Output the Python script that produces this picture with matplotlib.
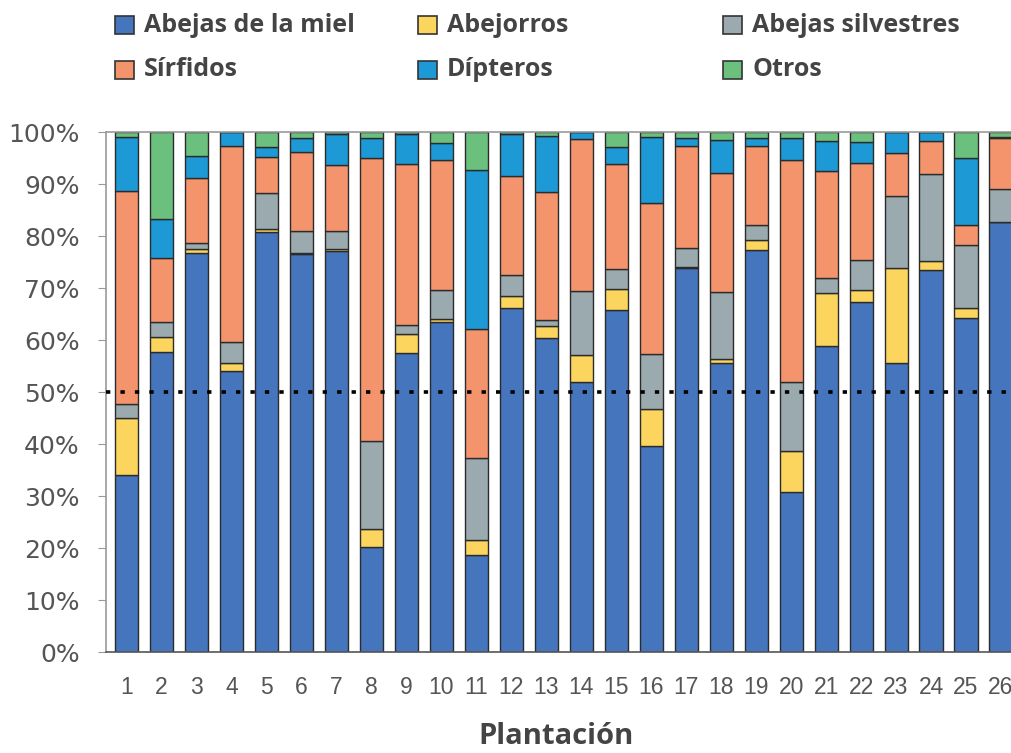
import matplotlib
matplotlib.use("Agg")
import matplotlib.pyplot as plt
import numpy as np
from matplotlib.patches import Rectangle

plantaciones = [str(i) for i in range(1, 27)]

# cumulative tops (percent)
abejas_miel_top = [34.0, 57.7, 76.7, 54.0, 80.7, 76.6, 77.2, 20.1, 57.5, 63.4, 18.7, 66.1, 60.3,
                   51.9, 65.8, 39.6, 73.9, 55.5, 77.4, 30.8, 58.8, 67.4, 55.5, 73.4, 64.2, 82.6]
abejorros_top = [45.0, 60.5, 77.5, 55.6, 81.3, 76.8, 77.5, 23.7, 61.1, 64.1, 21.6, 68.5, 62.6,
                 57.2, 69.9, 46.7, 74.0, 56.4, 79.3, 38.6, 69.1, 69.7, 73.8, 75.2, 66.1, 82.6]
abejas_silv_top = [47.7, 63.4, 78.7, 59.6, 88.3, 81.0, 81.0, 40.6, 62.8, 69.7, 37.3, 72.5, 63.8,
                   69.4, 73.6, 57.3, 77.7, 69.2, 82.1, 51.9, 71.9, 75.4, 87.6, 91.9, 78.3, 89.1]
sirfidos_top = [88.6, 75.8, 91.1, 97.4, 95.2, 96.2, 93.7, 95.0, 93.9, 94.6, 62.1, 91.5, 88.4,
                98.7, 93.9, 86.3, 97.4, 92.1, 97.4, 94.6, 92.5, 94.0, 95.9, 98.2, 82.2, 98.9]
dipteros_top = [99.1, 83.2, 95.4, 100.0, 97.1, 98.9, 99.7, 98.9, 99.7, 97.9, 92.6, 99.7, 99.3,
                100.0, 97.2, 99.1, 98.9, 98.4, 98.9, 98.9, 98.2, 98.0, 100.0, 100.0, 95.0, 99.0]
otros_top = [100.0] * 26

series_names = ["Abejas de la miel", "Abejorros", "Abejas silvestres", "Sírfidos", "Dípteros", "Otros"]
tops = [abejas_miel_top, abejorros_top, abejas_silv_top, sirfidos_top, dipteros_top, otros_top]
colors = ["#4575BD", "#FBD55E", "#9AAAAE", "#F4946C", "#1D9AD6", "#6CC07E"]

y_ticks = [0, 10, 20, 30, 40, 50, 60, 70, 80, 90, 100]
y_labels = [f"{v}%" for v in y_ticks]

W, H = 1012, 753
fig = plt.figure(figsize=(W / 100, H / 100), dpi=100)
fig.patch.set_facecolor("white")

ax_left = 106 / W
ax_bottom = (H - 652) / H
ax_height = (652 - 132) / H
xlim = (0.414, 26.7)
ax_width = (xlim[1] - xlim[0]) * 34.98 / W
ax = fig.add_axes([ax_left, ax_bottom, ax_width, ax_height])

x = np.arange(1, 27)
prev = np.zeros(26)
for name, top, col in zip(series_names, tops, colors):
    top = np.array(top)
    h = np.clip(top - prev, 0, None)
    ax.bar(x, h, bottom=prev, width=0.66, color=col, edgecolor="#2b2b2b",
           linewidth=1.0, label=name, zorder=2)
    prev = np.maximum(prev, top)

ax.axhline(50, color="black", linestyle=(0, (1.2, 2.8)), linewidth=2.6, zorder=5)

ax.set_xlim(*xlim)
ax.set_ylim(0, 100)
ax.set_yticks(y_ticks)
ax.set_yticklabels(y_labels)
ax.set_xticks(x)
ax.set_xticklabels(plantaciones)

for s in ["left", "top"]:
    ax.spines[s].set_color("#9a9a9a")
    ax.spines[s].set_linewidth(1.2)
ax.spines["bottom"].set_color("#555555")
ax.spines["bottom"].set_linewidth(1.2)
ax.spines["right"].set_visible(False)

ax.tick_params(axis="y", length=6, color="#9a9a9a", labelsize=18, labelcolor="#555555", pad=13)
for t in ax.get_yticklabels():
    t.set_family(["DejaVu Sans"])
ax.tick_params(axis="x", length=0, labelsize=16.5, labelcolor="#555555", pad=17)
for t in ax.get_xticklabels():
    t.set_family(["Liberation Sans"])

# x-axis title, centered on the visible area
fig.text(556 / W, 1 - 736 / H, "Plantación", fontsize=21, color="#444444",
         family=["Open Sans", "DejaVu Sans"], fontweight="bold", ha="center", va="center")

# legend: three columns, two rows (drawn from the series names/colours)
legend_col = [0, 1, 2, 0, 1, 2]
legend_row = [0, 0, 0, 1, 1, 1]
col_x = [115, 418, 723]
row_y = [25, 70]
for i, (name, col) in enumerate(zip(series_names, colors)):
    cx = col_x[legend_col[i]]
    cy = row_y[legend_row[i]]
    fig.add_artist(Rectangle(((cx) / W, 1 - (cy + 9) / H), 19 / W, 18 / H,
                             transform=fig.transFigure, facecolor=col,
                             edgecolor="#333333", linewidth=1.2))
    fig.text((cx + 29) / W, 1 - cy / H, name, fontsize=18, color="#444444",
             family=["Open Sans", "DejaVu Sans"], fontweight="bold",
             ha="left", va="center")

fig.savefig("out.png", dpi=100, facecolor="white")
